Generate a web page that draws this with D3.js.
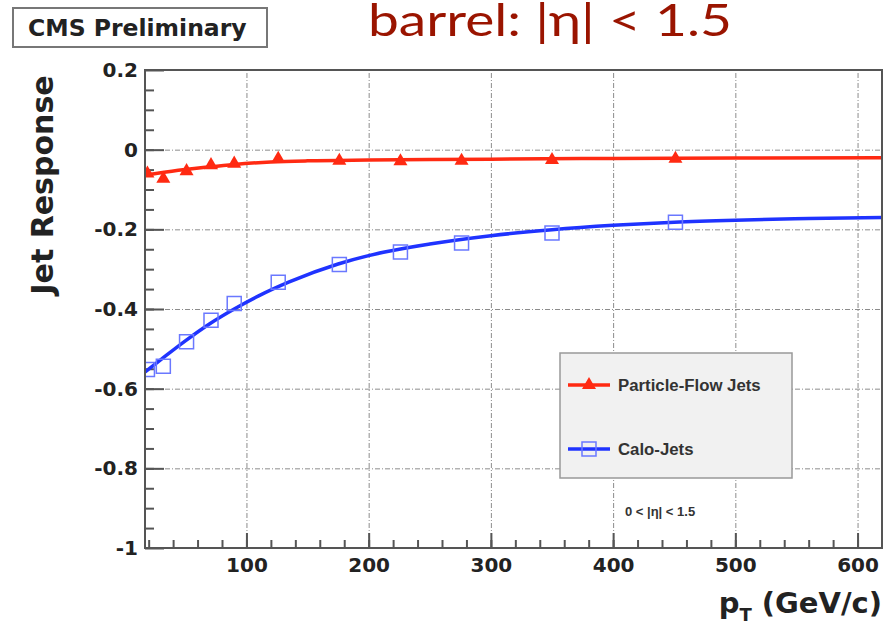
<!DOCTYPE html>
<html lang="en">
<head>
<meta charset="utf-8">
<title>Jet Response vs pT</title>
<script src="https://cdnjs.cloudflare.com/ajax/libs/d3/7.8.0/d3.min.js"></script>
<style>
  body { margin: 0; background: #fff; }
  .axis text { font-family: "DejaVu Sans", sans-serif; font-weight: bold; font-size: 20px; fill: #222; }
  .axis line { stroke: #555; stroke-width: 2; }
  .axis .domain { display: none; }
  .grid line { stroke: #8c8c8c; stroke-width: 1; stroke-dasharray: 5,2,1,2; }
  .grid .domain { display: none; }
</style>
</head>
<body>
<div id="chart"></div>
<script>
// bin centres (GeV/c) shared by both jet types
var ptBins = [19, 32, 51, 71, 90, 126, 176, 226, 276, 350, 451];
var pfResponse   = [-0.060, -0.073, -0.054, -0.039, -0.035, -0.023, -0.028, -0.029, -0.028, -0.026, -0.023];
var caloResponse = [-0.552, -0.544, -0.482, -0.428, -0.386, -0.333, -0.288, -0.257, -0.234, -0.209, -0.182];

// fitted curves
var pfFitPt  = [17, 30, 50, 70, 90, 120, 150, 200, 300, 400, 500, 620];
var pfFit    = [-0.064, -0.058, -0.050, -0.043, -0.037, -0.031, -0.028, -0.026, -0.024, -0.022, -0.021, -0.020];
var caloFitPt = [17, 30, 50, 70, 90, 110, 135, 175, 200, 250, 300, 350, 400, 450, 500, 560, 620];
var caloFit   = [-0.558, -0.527, -0.480, -0.437, -0.400, -0.367, -0.332, -0.287, -0.266, -0.237, -0.216, -0.201, -0.190, -0.182, -0.177, -0.173, -0.170];

var xTicks = [100, 200, 300, 400, 500, 600];
var yTicks = [0.2, 0, -0.2, -0.4, -0.6, -0.8, -1];
var yTickLabels = ["0.2", "0", "-0.2", "-0.4", "-0.6", "-0.8", "-1"];
var legendLabels = ["Particle-Flow Jets", "Calo-Jets"];

var pfColor = "#ff2a12", caloColor = "#1f33ff", caloMarker = "#6a78ff";

var W = 886, H = 628;
var pLeft = 145, pRight = 882, pTop = 70, pBottom = 548;

var svg = d3.select("#chart").append("svg")
    .attr("width", W).attr("height", H);

var x = d3.scaleLinear().domain([17, 620]).range([pLeft, pRight]);
var y = d3.scaleLinear().domain([-1, 0.2]).range([pBottom, pTop]);

// grid
svg.append("g").attr("class", "grid")
   .attr("transform", "translate(0," + pBottom + ")")
   .call(d3.axisBottom(x).tickValues(xTicks).tickSize(-(pBottom - pTop)).tickFormat(""));
svg.append("g").attr("class", "grid")
   .attr("transform", "translate(" + pLeft + ",0)")
   .call(d3.axisLeft(y).tickValues(yTicks).tickSize(-(pRight - pLeft)).tickFormat(""));

// minor ticks
svg.append("g").attr("class", "axis")
   .attr("transform", "translate(0," + pBottom + ")")
   .call(d3.axisBottom(x).tickValues(d3.range(20, 620, 20)).tickSize(-8).tickFormat(""));
svg.append("g").attr("class", "axis")
   .attr("transform", "translate(" + pLeft + ",0)")
   .call(d3.axisLeft(y).tickValues(d3.range(-0.95, 0.2, 0.05)).tickSize(-9).tickFormat(""));

// major ticks + labels
svg.append("g").attr("class", "axis")
   .attr("transform", "translate(0," + pBottom + ")")
   .call(d3.axisBottom(x).tickValues(xTicks).tickSize(-15).tickPadding(10).tickFormat(d3.format("d")));
svg.append("g").attr("class", "axis")
   .attr("transform", "translate(" + pLeft + ",0)")
   .call(d3.axisLeft(y).tickValues(yTicks).tickSize(-19).tickPadding(7)
         .tickFormat(function(d, i) { return yTickLabels[i]; }));

// clip to frame
svg.append("clipPath").attr("id", "plotClip")
   .append("rect").attr("x", pLeft).attr("y", pTop)
   .attr("width", pRight - pLeft).attr("height", pBottom - pTop);

var line = d3.line()
    .x(function(d) { return x(d[0]); })
    .y(function(d) { return y(d[1]); })
    .curve(d3.curveMonotoneX);

var plot = svg.append("g").attr("clip-path", "url(#plotClip)");

plot.append("path")
    .datum(d3.zip(caloFitPt, caloFit))
    .attr("d", line)
    .attr("fill", "none").attr("stroke", caloColor).attr("stroke-width", 3.5);

plot.append("path")
    .datum(d3.zip(pfFitPt, pfFit))
    .attr("d", line)
    .attr("fill", "none").attr("stroke", pfColor).attr("stroke-width", 3.5);

var tri = d3.symbol(d3.symbolTriangle).size(85);
var sq = d3.symbol(d3.symbolSquare).size(196);

plot.selectAll(".calo").data(d3.zip(ptBins, caloResponse)).enter()
    .append("path").attr("class", "calo")
    .attr("d", sq)
    .attr("transform", function(d) { return "translate(" + x(d[0]) + "," + y(d[1]) + ")"; })
    .attr("fill", "none").attr("stroke", caloMarker).attr("stroke-width", 1.5);

plot.selectAll(".pf").data(d3.zip(ptBins, pfResponse)).enter()
    .append("path").attr("class", "pf")
    .attr("d", tri)
    .attr("transform", function(d) { return "translate(" + x(d[0]) + "," + y(d[1]) + ")"; })
    .attr("fill", pfColor);

// frame
svg.append("rect")
   .attr("x", pLeft).attr("y", pTop)
   .attr("width", pRight - pLeft).attr("height", pBottom - pTop)
   .attr("fill", "none").attr("stroke", "#555").attr("stroke-width", 2);

// axis titles
svg.append("text")
   .attr("transform", "translate(53,185) rotate(-90)")
   .attr("text-anchor", "middle")
   .style("font-family", "DejaVu Sans, sans-serif").style("font-weight", "bold")
   .style("font-size", "30px").style("fill", "#222")
   .text("Jet Response");

var xt = svg.append("text")
   .attr("x", pRight).attr("y", 613)
   .attr("text-anchor", "end")
   .style("font-family", "DejaVu Sans, sans-serif").style("font-weight", "bold")
   .style("font-size", "29px").style("fill", "#222");
xt.append("tspan").text("p");
xt.append("tspan").attr("dy", 8).style("font-size", "18px").text("T");
xt.append("tspan").attr("dy", -8).text(" (GeV/c)");

// CMS label
svg.append("rect")
   .attr("x", 13).attr("y", 8).attr("width", 254).attr("height", 39)
   .attr("fill", "#fff").attr("stroke", "#777").attr("stroke-width", 2);
svg.append("text")
   .attr("x", 28).attr("y", 36)
   .style("font-family", "DejaVu Sans, sans-serif").style("font-weight", "bold")
   .style("font-size", "23.5px").style("fill", "#222")
   .text("CMS Preliminary");

// slide title
svg.append("text")
   .attr("x", 368).attr("y", 36)
   .attr("textLength", 364).attr("lengthAdjust", "spacingAndGlyphs")
   .style("font-family", "Lato, 'Open Sans', sans-serif")
   .style("font-size", "44px").style("fill", "#9a1400")
   .text("barrel: |\u03b7| < 1.5");

// legend
var lg = svg.append("g");
lg.append("rect")
  .attr("x", 560).attr("y", 353).attr("width", 232).attr("height", 125)
  .attr("fill", "#f1f1f1").attr("stroke", "#999").attr("stroke-width", 1.5);

var legendY = [385, 449];
var legendColors = [pfColor, caloColor];
legendLabels.forEach(function(lab, i) {
  lg.append("line")
    .attr("x1", 568).attr("x2", 610).attr("y1", legendY[i]).attr("y2", legendY[i])
    .attr("stroke", legendColors[i]).attr("stroke-width", 3.5);
  if (i === 0) {
    lg.append("path").attr("d", tri)
      .attr("transform", "translate(589," + legendY[i] + ")")
      .attr("fill", pfColor);
  } else {
    lg.append("path").attr("d", sq)
      .attr("transform", "translate(589," + legendY[i] + ")")
      .attr("fill", "none").attr("stroke", caloMarker).attr("stroke-width", 1.5);
  }
  lg.append("text")
    .attr("x", 618).attr("y", legendY[i] + 5.5)
    .style("font-family", "Liberation Sans, Arial, sans-serif").style("font-weight", "bold")
    .style("font-size", "16.8px").style("fill", "#333")
    .text(lab);
});

svg.append("text")
   .attr("x", 625).attr("y", 516)
   .style("font-family", "Liberation Sans, Arial, sans-serif").style("font-weight", "bold")
   .style("font-size", "13px").style("fill", "#333")
   .text("0 < |\u03b7| < 1.5");
</script>
</body>
</html>
